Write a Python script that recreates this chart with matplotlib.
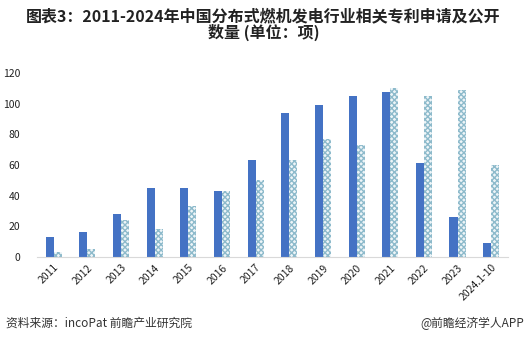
import numpy as np
import matplotlib.pyplot as plt

plt.rcParams['font.family'] = ['Noto Sans CJK SC', 'DejaVu Sans']
plt.rcParams['hatch.linewidth'] = 1.0

# data
years = ['2011', '2012', '2013', '2014', '2015', '2016', '2017', '2018',
         '2019', '2020', '2021', '2022', '2023', '2024.1-10']
apply_cnt = [13, 16, 28, 45, 45, 43, 63, 94, 99, 105, 108, 61, 26, 9]
public_cnt = [3, 5, 24, 18, 33, 43, 50, 63, 77, 73, 110, 105, 109, 60]
y_ticks = [0, 20, 40, 60, 80, 100, 120]

fig = plt.figure(figsize=(5.27, 3.5), dpi=100)
ax = fig.add_axes([0.070, 0.266, 0.894, 0.525])

x = np.arange(len(years))
w = 0.24
ax.bar(x - w / 2, apply_cnt, w, color='#4472c4', linewidth=0)
ax.bar(x + w / 2, public_cnt, w, facecolor='#eef5f8', edgecolor='#8dbacb',
       hatch='xxxxxx', linewidth=0)

ax.set_xlim(-0.5, len(years) - 0.5)
ax.set_ylim(0, 120)
ax.set_yticks(y_ticks)
ax.set_xticks(x)
ax.set_xticklabels(years, rotation=45, ha='right', rotation_mode='anchor',
                   fontsize=7.5, color='#222222')
ax.tick_params(axis='y', length=0, labelsize=7.5, labelcolor='#222222', pad=12)
ax.tick_params(axis='x', length=0, pad=4)
for s in ['top', 'right', 'left']:
    ax.spines[s].set_visible(False)
ax.spines['bottom'].set_color('#d9d9d9')

fig.text(0.5, 0.93, '图表3：2011-2024年中国分布式燃机发电行业相关专利申请及公开\n数量 (单位：项)',
         ha='center', va='center', fontsize=11.5, fontweight='bold',
         color='#222222', linespacing=0.95)
fig.text(0.012, 0.077, '资料来源：incoPat 前瞻产业研究院', fontsize=8.5,
         color='#333333', va='center')
fig.text(0.995, 0.077, '@前瞻经济学人APP', fontsize=8.5, color='#333333',
         va='center', ha='right')

fig.savefig('out.png', dpi=100)
